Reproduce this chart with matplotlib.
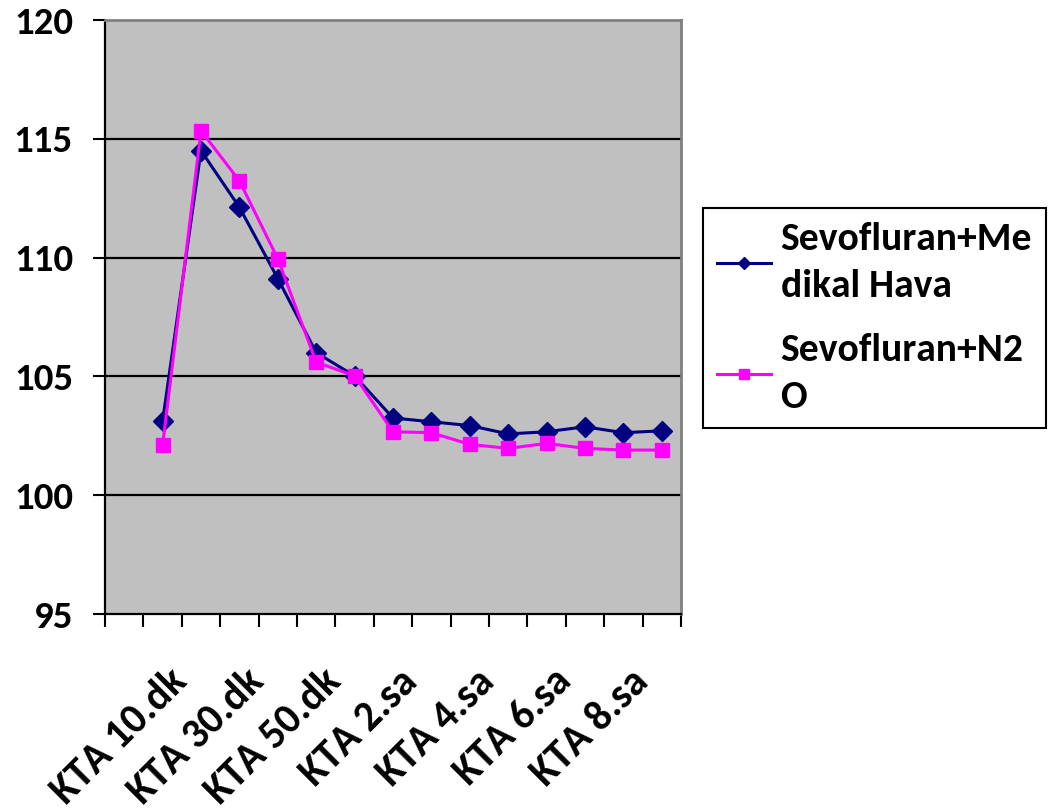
import matplotlib
matplotlib.use('Agg')
import matplotlib.pyplot as plt
from matplotlib.transforms import ScaledTranslation

plt.rcParams['font.family'] = ['Carlito', 'DejaVu Sans']
plt.rcParams['font.weight'] = 'bold'

categories = ['', 'KTA 5.dk', 'KTA 10.dk', 'KTA 20.dk', 'KTA 30.dk', 'KTA 40.dk',
              'KTA 50.dk', 'KTA 1.sa', 'KTA 2.sa', 'KTA 3.sa', 'KTA 4.sa',
              'KTA 5.sa', 'KTA 6.sa', 'KTA 7.sa', 'KTA 8.sa']
medikal_hava = [None, 103.12, 114.5, 112.12, 109.12, 106.0, 105.02, 103.25,
                103.09, 102.93, 102.58, 102.67, 102.88, 102.63, 102.71]
n2o = [None, 102.1, 115.34, 113.23, 109.95, 105.6, 105.02, 102.67,
       102.63, 102.14, 101.97, 102.18, 101.97, 101.9, 101.9]

label_medikal = 'Sevofluran+Me\ndikal Hava'
label_n2o = 'Sevofluran+N2\nO'

fig = plt.figure(figsize=(10.55, 8.09), dpi=100)
ax = fig.add_axes([105 / 1055, 1 - 614 / 809, 576 / 1055, 594 / 809])
ax.set_facecolor('#C0C0C0')

x = list(range(len(categories)))
xs1 = [i for i, v in zip(x, medikal_hava) if v is not None]
ys1 = [v for v in medikal_hava if v is not None]
xs2 = [i for i, v in zip(x, n2o) if v is not None]
ys2 = [v for v in n2o if v is not None]

ax.plot(xs1, ys1, color='#000080', lw=2.2, marker='D', ms=10,
        label=label_medikal, zorder=3)
ax.plot(xs2, ys2, color='#FF00FF', lw=2.2, marker='s', ms=10.5,
        label=label_n2o, zorder=3)

ax.set_ylim(95, 120)
ax.set_xlim(-0.5, len(categories) - 0.5)
ax.set_yticks([95, 100, 105, 110, 115, 120])
ax.tick_params(axis='y', direction='out', length=9, width=1.5, labelsize=28, pad=14)
for yv in [100, 105, 110, 115]:
    ax.axhline(yv, color='black', lw=1.6, zorder=1)

# category boundary ticks
ax.set_xticks([i - 0.5 for i in range(len(categories) + 1)], minor=True)
ax.tick_params(axis='x', which='minor', direction='out', length=9, width=1.5)
ax.set_xticks(x[::2])
ax.set_xticklabels(categories[::2], rotation=45, ha='right', va='center',
                   rotation_mode='anchor', fontsize=30)
ax.tick_params(axis='x', which='major', length=0, pad=44)
shift = ScaledTranslation(-0.2, 0, fig.dpi_scale_trans)
for lab in ax.xaxis.get_majorticklabels():
    lab.set_transform(lab.get_transform() + shift)

for side in ['left', 'bottom']:
    ax.spines[side].set_color('black')
    ax.spines[side].set_linewidth(1.6)
for side in ['top', 'right']:
    ax.spines[side].set_color('#808080')
    ax.spines[side].set_linewidth(2)

leg = fig.legend(loc='upper left', bbox_to_anchor=(703 / 1055, 1 - 208 / 809),
                 fontsize=28.5, frameon=True, fancybox=False, framealpha=1,
                 edgecolor='black', handlelength=1.36, markerscale=0.65,
                 borderpad=0.35, labelspacing=0.75, handletextpad=0.25,
                 borderaxespad=0)
leg.get_frame().set_linewidth(1.5)
for t in leg.get_texts():
    t.set_linespacing(1.48)

fig.savefig('out.png', dpi=100)
